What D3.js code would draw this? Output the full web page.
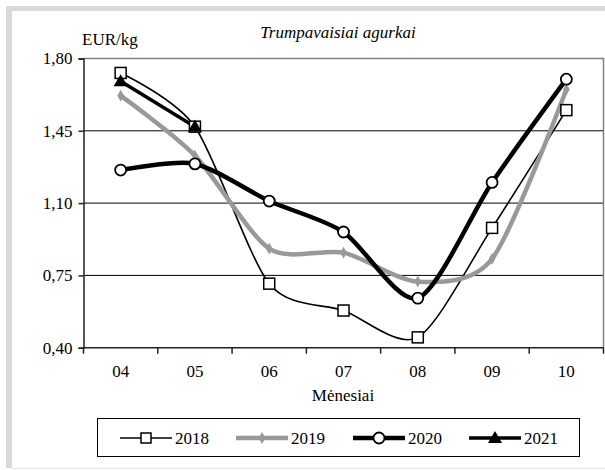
<!DOCTYPE html>
<html>
<head>
<meta charset="utf-8">
<script src="https://cdn.jsdelivr.net/npm/d3@7"></script>
<style>
body{margin:0;background:#fff;}
svg text{font-family:"Times New Roman",Times,"Liberation Serif","Nimbus Roman","FreeSerif","DejaVu Serif",serif !important;}
</style>
</head>
<body>
<div id="chart"></div>
<script>
var months=["04","05","06","07","08","09","10"];
var yTicks=[0.40,0.75,1.10,1.45,1.80];
var v2018=[1.73,1.47,0.71,0.58,0.45,0.98,1.55];
var v2019=[1.62,1.33,0.88,0.86,0.72,0.83,1.65];
var v2020=[1.26,1.29,1.11,0.96,0.64,1.20,1.70];
var v2021=[1.69,1.47,null,null,null,null,null];
var seriesNames=["2018","2019","2020","2021"];

var W=605,H=470;
var pLeft=83.5,pRight=603.5,pTop=58.5,pBottom=347.7;

var svg=d3.select("#chart").append("svg").attr("width",W).attr("height",H)
	.style("display","block");

// outer grey frame (cut on right/bottom)
svg.append("rect").attr("x",6).attr("y",6).attr("width",6).attr("height",H-8).style("fill","#d9d9d9");
svg.append("rect").attr("x",6).attr("y",6).attr("width",W).attr("height",5).style("fill","#d9d9d9");
svg.append("line").attr("x1",12).attr("x2",W).attr("y1",468.5).attr("y2",468.5)
	.style("stroke","#e6e6e6").style("stroke-width",1);

var x=d3.scaleBand().domain(months).range([pLeft,pRight]);
var y=d3.scaleLinear().domain([0.40,1.80]).range([pBottom,pTop]);
var fmt=function(d){return d3.format(".2f")(d).replace(".",",");};

// gridlines
svg.selectAll(".grid").data(yTicks.slice(1,4)).enter().append("line")
	.attr("x1",pLeft).attr("x2",pRight)
	.attr("y1",function(d){return y(d);}).attr("y2",function(d){return y(d);})
	.style("stroke","#000").style("stroke-width",1);

// plot frame top/right
svg.append("path").attr("d","M"+pLeft+","+pTop+"H"+pRight+"V"+pBottom)
	.style("fill","none").style("stroke","#808080").style("stroke-width",1.5);

// y axis
var yAxis=d3.axisLeft(y).tickValues(yTicks).tickFormat(fmt).tickSize(5).tickPadding(6);
var gy=svg.append("g").attr("transform","translate("+pLeft+",0)").call(yAxis);
gy.attr("font-size",17);
gy.select(".domain").style("stroke","#222").style("stroke-width",1.5);
gy.selectAll(".tick line").style("stroke","#222").style("stroke-width",1.5);
gy.selectAll("text").attr("fill","#000");

// x axis with ticks at category boundaries
var gx=svg.append("g").attr("transform","translate(0,"+pBottom+")");
gx.append("line").attr("x1",pLeft).attr("x2",pRight).style("stroke","#222").style("stroke-width",1.5);
var bounds=months.map(function(m){return x(m);}).concat([pRight]);
gx.selectAll(".xt").data(bounds).enter().append("line")
	.attr("x1",function(d){return d;}).attr("x2",function(d){return d;})
	.attr("y1",0).attr("y2",6).style("stroke","#222").style("stroke-width",1.5);
gx.selectAll(".xl").data(months).enter().append("text")
	.attr("x",function(d){return x(d)+x.bandwidth()/2;}).attr("y",29)
	.attr("text-anchor","middle").attr("font-size",17).text(function(d){return d;});

// titles
svg.append("text").attr("x",338).attr("y",38).attr("text-anchor","middle")
	.attr("font-size",17).attr("font-style","italic").text("Trumpavaisiai agurkai");
svg.append("text").attr("x",82).attr("y",45).attr("font-size",17).text("EUR/kg");
svg.append("text").attr("x",343).attr("y",401).attr("text-anchor","middle")
	.attr("font-size",17).text("Mėnesiai");

var styles=[
	{vals:v2018,color:"#000",width:1.6,marker:"square"},
	{vals:v2019,color:"#999",width:4.5,marker:"diamond"},
	{vals:v2020,color:"#000",width:4.5,marker:"circle"},
	{vals:v2021,color:"#000",width:3.5,marker:"triangle"}
];

function cx(i){return x(months[i])+x.bandwidth()/2;}

var line=d3.line()
	.defined(function(d){return d!=null;})
	.x(function(d,i){return cx(i);})
	.y(function(d){return y(d);})
	.curve(d3.curveCardinal.tension(0.2));

function drawMarker(g,type,px,py,small){
	if(type=="square"){
		var s=small?10:11;
		g.append("rect").attr("x",px-s/2).attr("y",py-s/2).attr("width",s).attr("height",s)
			.style("fill","#fff").style("stroke","#000").style("stroke-width",1.5);
	}else if(type=="diamond"){
		g.append("path").attr("d",d3.symbol().type(d3.symbolDiamond).size(40)())
			.attr("transform","translate("+px+","+py+")").style("fill","#999");
	}else if(type=="circle"){
		g.append("circle").attr("cx",px).attr("cy",py).attr("r",5.5)
			.style("fill","#fff").style("stroke","#000").style("stroke-width",1.8);
	}else{
		g.append("path").attr("d",d3.symbol().type(d3.symbolTriangle).size(85)())
			.attr("transform","translate("+px+","+(py+1)+")").style("fill","#000");
	}
}

styles.forEach(function(s){
	svg.append("path").datum(s.vals).attr("d",line)
		.style("fill","none").style("stroke",s.color).style("stroke-width",s.width)
		.style("stroke-linejoin","round");
});
styles.forEach(function(s){
	var g=svg.append("g");
	s.vals.forEach(function(v,i){
		if(v!=null) drawMarker(g,s.marker,cx(i),y(v));
	});
});

// legend
svg.append("rect").attr("x",97.5).attr("y",418.5).attr("width",482).attr("height",38)
	.style("fill","#fff").style("stroke","#000").style("stroke-width",1);
var legX=[120,236,353,469];
seriesNames.forEach(function(n,i){
	var s=styles[i],g=svg.append("g");
	g.append("line").attr("x1",legX[i]).attr("x2",legX[i]+52).attr("y1",438).attr("y2",438)
		.style("stroke",s.color).style("stroke-width",s.width);
	drawMarker(g,s.marker,legX[i]+26,438,true);
	g.append("text").attr("x",legX[i]+55).attr("y",444).attr("font-size",17).text(n);
});
</script>
</body>
</html>
